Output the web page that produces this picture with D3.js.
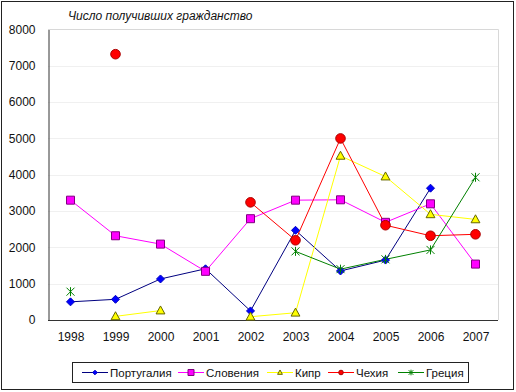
<!DOCTYPE html>
<html>
<head>
<meta charset="utf-8">
<script src="https://cdn.jsdelivr.net/npm/d3@7"></script>
<style>
  body { margin: 0; background: #fff; }
  text { font-family: "Liberation Sans", Arial, sans-serif; fill: #111; }
</style>
</head>
<body>
<script>
// chart size matches the window
var width = 516;
var height = 392;

// data (null = no value that year)
var years = ["1998", "1999", "2000", "2001", "2002", "2003", "2004", "2005", "2006", "2007"];
var yTicks = [0, 1000, 2000, 3000, 4000, 5000, 6000, 7000, 8000];
var portugal = [500, 570, 1130, 1410, 250, 2470, 1350, 1650, 3630, null];
var slovenia = [3300, 2320, 2090, 1340, 2790, 3300, 3310, 2690, 3200, 1540];
var cyprus   = [null, 100, 260, null, 90, 200, 4520, 3950, 2910, 2770];
var czechia  = [null, 7320, null, null, 3240, 2195, 5000, 2610, 2320, 2360];
var greece   = [780, null, null, null, null, 1890, 1400, 1670, 1930, 3930];
var title = "Число получивших гражданство";

var series = [
  { name: "Португалия", values: portugal, line: "#000080", fill: "#0000ff", stroke: "#0000c0", marker: "diamond" },
  { name: "Словения", values: slovenia, line: "#ff00ff", fill: "#ff00ff", stroke: "#800080", marker: "square" },
  { name: "Кипр", values: cyprus, line: "#ffff00", fill: "#ffff00", stroke: "#666600", marker: "triangle" },
  { name: "Чехия", values: czechia, line: "#ff0000", fill: "#ff0000", stroke: "#aa0000", marker: "circle" },
  { name: "Греция", values: greece, line: "#008000", fill: "none", stroke: "#008000", marker: "star" }
];

var plot = { left: 48, right: 498, top: 29.5, bottom: 320 };

var svg = d3.select("body").append("svg")
  .attr("width", width)
  .attr("height", height);

// outer frame
svg.append("rect")
  .attr("x", 1.5).attr("y", 1.5)
  .attr("width", 512).attr("height", 388)
  .attr("fill", "#fff").attr("stroke", "#222");

var x = d3.scalePoint().domain(years).range([plot.left, plot.right]).padding(0.5);
var y = d3.scaleLinear().domain([0, 8000]).range([plot.bottom, plot.top]);

// grid lines
svg.append("g").selectAll("line").data(yTicks.slice(1, -1)).enter().append("line")
  .attr("x1", plot.left).attr("x2", plot.right)
  .attr("y1", function(d) { return Math.round(y(d)) + 0.5; })
  .attr("y2", function(d) { return Math.round(y(d)) + 0.5; })
  .attr("stroke", "#f0f0f0");

// plot border, light on top and right
svg.append("path")
  .attr("d", "M" + plot.left + "," + (plot.top) + "H" + (plot.right + 0.5) + "V" + plot.bottom)
  .attr("fill", "none").attr("stroke", "#d8d8d8");

// y axis
var yAxis = svg.append("g")
  .attr("transform", "translate(" + (plot.left + 0.5) + ",0)")
  .call(d3.axisLeft(y).tickValues(yTicks).tickSize(0).tickPadding(13).tickFormat(d3.format("d")));
yAxis.select(".domain").attr("stroke", "#333");
yAxis.selectAll("text").style("font-size", "12px").attr("fill", "#111");

// x axis
var xAxis = svg.append("g")
  .attr("transform", "translate(0," + (plot.bottom + 0.5) + ")")
  .call(d3.axisBottom(x).tickSize(0).tickPadding(12));
xAxis.select(".domain").attr("stroke", "#333").attr("d", "M" + plot.left + ",0H" + plot.right);
xAxis.selectAll("text").style("font-size", "12px").attr("fill", "#111");

// title
svg.append("text")
  .attr("x", 68).attr("y", 20)
  .style("font-size", "12px").style("font-style", "italic")
  .text(title);

var line = d3.line()
  .defined(function(d) { return d != null; })
  .x(function(d, i) { return x(years[i]); })
  .y(function(d) { return y(d); });

function markerPath(type, s) {
  if (type == "diamond") return "M0," + (-s) + "L" + s + ",0L0," + s + "L" + (-s) + ",0Z";
  if (type == "square") return "M" + (-s) + "," + (-s) + "h" + (2 * s) + "v" + (2 * s) + "h" + (-2 * s) + "Z";
  if (type == "triangle") return "M0," + (-s * 1.1) + "L" + (s * 1.05) + "," + (s * 0.8) + "L" + (-s * 1.05) + "," + (s * 0.8) + "Z";
  if (type == "circle") return d3.symbol().type(d3.symbolCircle).size(Math.PI * s * s)();
  if (type == "star") return "M" + (-s) + "," + (-s) + "L" + s + "," + s + "M" + (-s) + "," + s + "L" + s + "," + (-s) + "M0," + (-s - 0.5) + "V" + (s + 0.5);
}

var sizes = { diamond: 4, square: 4, triangle: 4.2, circle: 4.8, star: 4 };

series.forEach(function(s) {
  svg.append("path")
    .datum(s.values)
    .attr("d", line)
    .attr("fill", "none")
    .attr("stroke", s.line)
    .attr("stroke-width", 1);
});

series.forEach(function(s) {
  var pts = s.values.map(function(v, i) { return { v: v, yr: years[i] }; })
    .filter(function(d) { return d.v != null; });
  svg.append("g").selectAll("path").data(pts).enter().append("path")
    .attr("transform", function(d) { return "translate(" + x(d.yr) + "," + y(d.v) + ")"; })
    .attr("d", markerPath(s.marker, sizes[s.marker]))
    .attr("fill", s.fill)
    .attr("stroke", s.stroke)
    .attr("stroke-width", 1);
});

// legend
var legend = svg.append("g");
legend.append("rect")
  .attr("x", 72.5).attr("y", 362.5)
  .attr("width", 396).attr("height", 20)
  .attr("fill", "#fff").attr("stroke", "#222");

var legendX = [82, 178, 267, 328, 398];
series.forEach(function(s, i) {
  var g = legend.append("g").attr("transform", "translate(" + legendX[i] + ",372.5)");
  g.append("line").attr("x1", 0).attr("x2", 26).attr("stroke", s.line);
  g.append("path")
    .attr("transform", "translate(13,0)")
    .attr("d", markerPath(s.marker, s.marker == "square" ? 3 : 2.3))
    .attr("fill", s.fill).attr("stroke", s.stroke);
  g.append("text")
    .attr("x", 28).attr("y", 4)
    .style("font-size", "11.5px")
    .text(s.name);
});
</script>
</body>
</html>
